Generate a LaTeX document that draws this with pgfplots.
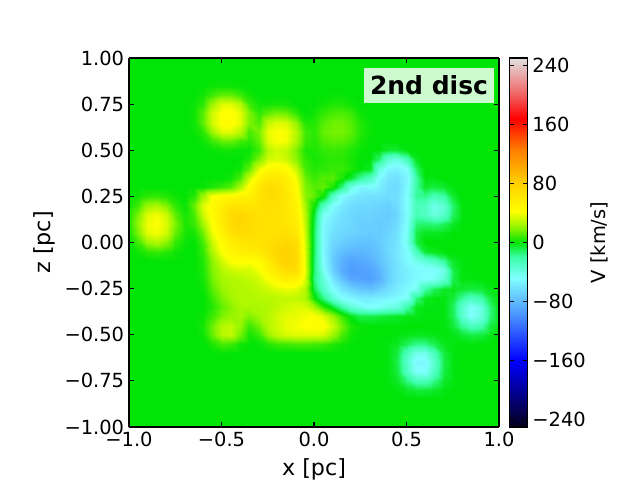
\documentclass[border=0pt]{standalone}
\usepackage{fontspec}
\setmainfont{DejaVu Sans}
\usepackage{pgfplots}
\pgfplotsset{compat=1.18}

\pgfplotsset{
  colormap={vel}{
    rgb255(0pt)=(5,0,25);
    rgb255(90pt)=(0,0,255);
    rgb255(150pt)=(72,142,255);
    rgb255(202pt)=(128,255,255);
    rgb255(230pt)=(60,255,170);
    rgb255(250pt)=(0,228,6);
    rgb255(270pt)=(140,245,0);
    rgb255(292pt)=(255,255,0);
    rgb255(330pt)=(255,210,0);
    rgb255(375pt)=(255,128,0);
    rgb255(418pt)=(255,0,0);
    rgb255(455pt)=(240,110,110);
    rgb255(500pt)=(225,225,225);
  },
}

% velocity map read off on a 0.05 pc grid, one \R per z row, x from -1 to 1
\def\pts{}
\newcount\ci
\newcommand\R[2]{%
  \edef\rowlist{#2}%
  \global\ci=0
  \foreach \v in \rowlist {%
    \pgfmathsetmacro\xv{\the\ci*0.05-1}%
    \xdef\pts{\pts (\xv,#1,\v)}%
    \global\advance\ci by 1
  }%
}
\def\zeros{0,0,0,0,0,0,0,0,0,0,0,0,0,0,0,0,0,0,0,0,0,0,0,0,0,0,0,0,0,0,0,0,0,0,0,0,0,0,0,0,0}

\R{1.00}{\zeros}
\R{0.95}{\zeros}
\R{0.90}{\zeros}
\R{0.85}{0,0,0,0,0,0,0,0,0,1,2,2,1,0,0,0,0,0,0,0, 0, 0,0,0,0,0,0,0,0,0,0,0,0,0,0,0,0,0,0,0,0}
\R{0.80}{0,0,0,0,0,0,0,0,2,8,14,14,9,3,0,0,0,0,0,0, 0, 0,1,1,0,0,0,0,0,0,0,0,0,0,0,0,0,0,0,0,0}
\R{0.75}{0,0,0,0,0,0,0,1,6,23,36,36,28,9,2,2,3,3,0,0, 0, 2,4,4,2,0,0,0,0,0,0,0,0,0,0,0,0,0,0,0,0}
\R{0.70}{0,0,0,0,0,0,0,2,13,33,43,44,37,18,6,13,17,15,7,0, 2, 7,10,11,8,2,0,0,0,0,0,0,0,0,0,0,0,0,0,0,0}
\R{0.65}{0,0,0,0,0,0,0,2,13,33,43,44,37,18,11,31,36,35,22,5, 5, 12,16,16,12,5,1,0,0,0,0,0,0,0,0,0,0,0,0,0,0}
\R{0.60}{0,0,0,0,0,0,0,1,6,23,36,36,28,10,17,38,42,41,28,9, 6, 14,17,17,13,5,1,0,0,0,0,0,0,0,0,0,0,0,0,0,0}
\R{0.55}{0,0,0,0,0,0,0,0,2,8,14,14,9,6,14,36,41,40,26,8, 5, 11,13,13,9,3,0,0,0,0,0,0,0,0,0,0,0,0,0,0,0}
\R{0.50}{0,0,0,0,0,0,0,0,0,1,2,2,1,1,9,28,34,30,18,4, 4, 7,8,7,4,1,0,0,-5,-5,-1,0,0,0,0,0,0,0,0,0,0}
\R{0.45}{0,0,0,0,0,0,0,0,0,0,0,0,0,4,18,33,35,32,20,7, 3, 5,6,6,3,0,0,-12,-34,-38,-24,-3,0,0,0,0,0,0,0,0,0}
\R{0.40}{0,0,0,0,0,0,0,0,0,0,0,0,2,14,38,48,50,46,32,10, 5, 6,8,8,4,0,-3,-38,-52,-55,-48,-12,0,0,0,0,0,0,0,0,0}
\R{0.35}{0,0,0,0,0,0,0,0,0,0,0,2,10,32,52,62,62,56,40,15, 8, 12,12,4,-5,-18,-28,-50,-60,-62,-52,-20,-1,-1,0,0,0,0,0,0,0}
\R{0.30}{0,0,0,0,0,0,0,0,1,4,8,12,26,45,62,72,70,60,45,18, 12, 14,4,-15,-40,-52,-50,-55,-63,-65,-50,-20,-4,-7,-5,-1,0,0,0,0,0}
\R{0.25}{0,2,6,7,5,2,0,5,24,42,46,48,52,55,65,72,70,62,48,20, 14, 2,-30,-50,-56,-60,-62,-62,-64,-62,-48,-18,-16,-24,-20,-5,0,0,0,0,0}
\R{0.20}{2,9,23,27,20,7,1,14,36,46,56,65,66,64,66,70,68,62,52,25, 2, -28,-50,-58,-64,-66,-66,-68,-70,-64,-48,-26,-28,-42,-34,-12,-1,0,0,0,0}
\R{0.15}{4,18,36,40,33,14,3,10,32,44,60,72,76,72,68,68,66,62,55,28, -5, -45,-56,-62,-66,-68,-68,-70,-72,-66,-48,-24,-28,-38,-30,-10,-1,0,0,0,0}
\R{0.10}{5,22,39,42,35,18,4,8,24,42,58,72,76,72,68,66,66,64,58,30, -8, -50,-60,-64,-66,-70,-70,-72,-70,-64,-46,-14,-12,-14,-10,-3,0,0,0,0,0}
\R{0.05}{4,18,36,40,33,14,3,3,16,38,52,66,72,70,66,66,68,68,62,32, -10, -50,-62,-66,-68,-70,-72,-72,-68,-60,-44,-8,-3,-3,-2,0,0,0,0,0,0}
\R{0.00}{2,9,23,27,20,7,1,0,10,32,46,56,62,64,64,68,72,76,70,34, -10, -50,-66,-70,-74,-76,-76,-72,-66,-60,-42,-8,0,0,0,0,0,0,0,0,0}
\R{-0.05}{0,2,6,7,5,2,0,0,7,26,42,50,54,56,60,68,76,80,74,36, -10, -50,-70,-78,-82,-82,-80,-74,-66,-58,-48,-26,-6,-3,-1,0,0,0,0,0,0}
\R{-0.10}{0,0,0,0,0,0,0,0,5,20,34,42,44,42,44,58,72,80,74,36, -12, -48,-72,-84,-90,-88,-84,-76,-68,-60,-50,-42,-35,-30,-18,-4,-1,0,0,0,0}
\R{-0.15}{0,0,0,0,0,0,0,0,4,18,28,32,34,34,40,52,62,72,70,38, -12, -44,-70,-86,-94,-92,-90,-82,-70,-60,-54,-50,-50,-50,-40,-8,-1,0,0,0,0}
\R{-0.20}{0,0,0,0,0,0,0,0,3,16,25,27,28,30,34,42,50,56,52,35, -15, -36,-60,-76,-88,-90,-92,-84,-70,-60,-55,-50,-48,-46,-34,-8,-1,-1,0,0,0}
\R{-0.25}{0,0,0,0,0,0,0,0,1,12,22,26,27,28,30,33,36,38,36,28, -8, -30,-48,-60,-68,-74,-76,-70,-62,-56,-50,-44,-20,-10,-4,-2,-5,-7,-6,-2,0}
\R{-0.30}{0,0,0,0,0,0,0,0,0,8,18,24,27,27,28,28,29,30,30,26, 2, -15,-35,-48,-52,-56,-56,-54,-52,-50,-46,-15,-3,-1,-1,-6,-18,-26,-22,-7,-1}
\R{-0.35}{0,0,0,0,0,0,0,0,0,5,14,20,26,26,26,27,30,33,35,35, 25, 8,-5,-20,-35,-42,-48,-45,-40,-38,-20,-3,-1,-1,-1,-10,-32,-48,-38,-14,-2}
\R{-0.40}{0,0,0,0,0,0,0,0,1,8,18,22,25,18,24,28,33,37,38,40, 42, 36,22,8,-2,-8,-8,-6,-5,-4,-2,-2,-1,-1,-1,-10,-32,-48,-38,-14,-2}
\R{-0.45}{0,0,0,0,0,0,0,0,3,15,28,30,22,8,16,28,33,38,40,43, 45, 44,32,16,4,1,0,0,0,0,0,0,0,0,-1,-6,-18,-26,-22,-7,-1}
\R{-0.50}{0,0,0,0,0,0,0,0,2,14,28,30,16,3,8,22,30,34,36,36, 36, 34,22,10,2,0,0,0,0,-1,-2,-3,-3,-2,-1,-2,-5,-7,-6,-2,0}
\R{-0.55}{0,0,0,0,0,0,0,0,0,4,10,8,2,0,1,5,8,9,10,10, 9, 8,4,2,0,0,0,0,-1,-3,-10,-16,-16,-10,-3,-1,0,-1,0,0,0}
\R{-0.60}{0,0,0,0,0,0,0,0,0,0,1,0,0,0,0,0,0,0,0,0, 0, 0,0,0,0,0,0,0,-1,-7,-26,-42,-42,-26,-7,-1,0,0,0,0,0}
\R{-0.65}{0,0,0,0,0,0,0,0,0,0,0,0,0,0,0,0,0,0,0,0, 0, 0,0,0,0,0,0,0,-1,-8,-32,-52,-52,-32,-8,-1,0,0,0,0,0}
\R{-0.70}{0,0,0,0,0,0,0,0,0,0,0,0,0,0,0,0,0,0,0,0, 0, 0,0,0,0,0,0,0,-1,-7,-28,-46,-46,-28,-7,-1,0,0,0,0,0}
\R{-0.75}{0,0,0,0,0,0,0,0,0,0,0,0,0,0,0,0,0,0,0,0, 0, 0,0,0,0,0,0,0,-1,-4,-15,-24,-24,-15,-4,-1,0,0,0,0,0}
\R{-0.80}{0,0,0,0,0,0,0,0,0,0,0,0,0,0,0,0,0,0,0,0, 0, 0,0,0,0,0,0,0,0,-1,-4,-6,-6,-4,-1,0,0,0,0,0,0}
\R{-0.85}{\zeros}
\R{-0.90}{\zeros}
\R{-0.95}{\zeros}
\R{-1.00}{\zeros}

\begin{document}
\begin{tikzpicture}
  \path[use as bounding box] (0,0) rectangle (6.4in,4.8in);
  \begin{axis}[
    at={(1.29in,0.53in)}, anchor=south west,
    scale only axis, width=3.7in, height=3.69in,
    view={0}{90},
    xmin=-1, xmax=1, ymin=-1, ymax=1,
    colormap name=vel,
    point meta min=-250, point meta max=250,
    axis on top,
    axis line style={line width=0.8bp},
    tick align=inside, tick pos=both,
    major tick length=3.5bp,
    tick style={black, line width=0.8bp},
    xtick={-1,-0.5,0,0.5,1},
    xticklabels={−1.0,−0.5,0.0,0.5,1.0},
    ytick={-1,-0.75,-0.5,-0.25,0,0.25,0.5,0.75,1},
    yticklabels={−1.00,−0.75,−0.50,−0.25,0.00,0.25,0.50,0.75,1.00},
    tick label style={font=\fontsize{14.05}{16}\selectfont},
    xlabel={x [pc]}, ylabel={z [pc]},
    xlabel shift=0.03in,
    label style={font=\fontsize{16.06}{19}\selectfont},
    colorbar,
    colorbar style={
      at={(1.0285,1)}, anchor=north west,
      width=0.18in, height=3.69in,
      ytick={-240,-160,-80,0,80,160,240},
      yticklabels={−240,−160,−80,0,80,160,240},
      yticklabel style={font=\fontsize{14.05}{16}\selectfont},
      ylabel={V [km/s]},
      ylabel shift=-0.05in,
      ylabel style={font=\fontsize{14.05}{16}\selectfont},
      tick align=inside,
      major tick length=3.5bp,
      tick style={black, line width=0.8bp},
      axis line style={line width=0.8bp},
    },
  ]
    \edef\doplot{\noexpand\addplot3[surf, shader=interp, mesh/rows=41] coordinates {\pts};}
    \doplot
    \node[fill=white, fill opacity=0.8, text opacity=1, inner sep=0pt,
          minimum width=1.3in, minimum height=0.35in,
          font=\fontsize{18.07}{21}\selectfont\bfseries]
      at (rel axis cs:0.8108,0.9255) {2nd disc};
  \end{axis}
\end{tikzpicture}
\end{document}
